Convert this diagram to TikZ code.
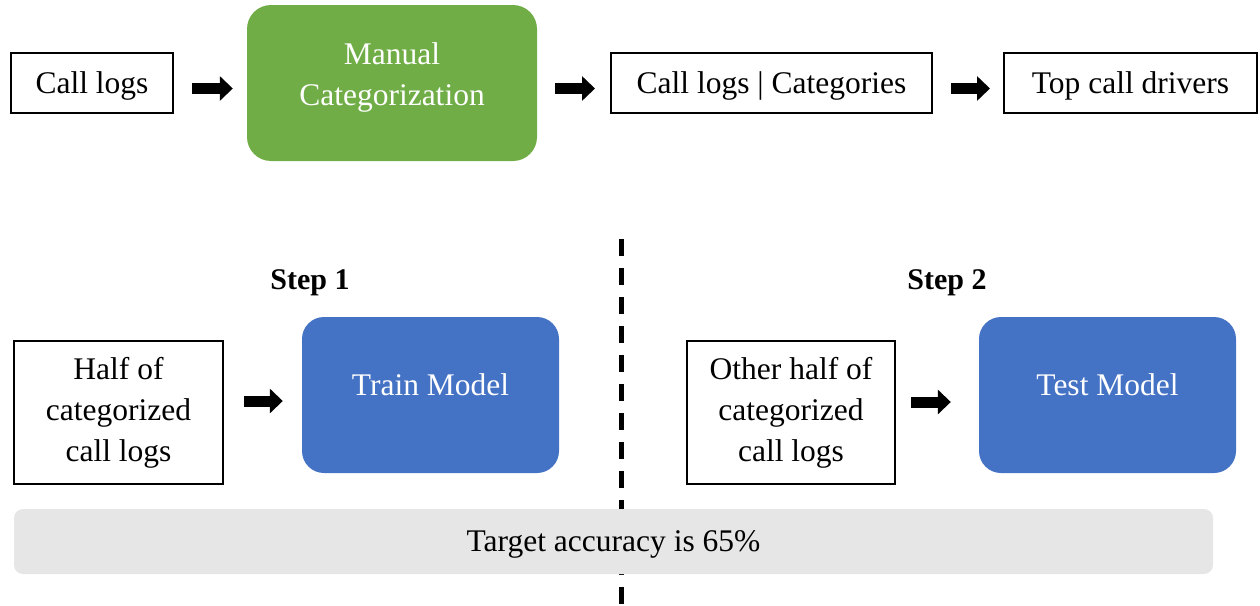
\documentclass[tikz,border=0pt]{standalone}
\usepackage{fontspec}
\setmainfont{Liberation Serif}
\usetikzlibrary{arrows.meta,calc}
\definecolor{mgreen}{HTML}{70AD47}
\definecolor{mblue}{HTML}{4472C4}
\definecolor{mgray}{HTML}{E6E6E6}
\begin{document}
\begin{tikzpicture}[x=1pt,y=-1pt,
  txt/.style={font=\fontsize{31.5}{41}\selectfont},
  plainbox/.style={draw=black,line width=2pt,txt,align=center,inner sep=0pt},
  oneline/.style={text depth=0pt},
  colbox/.style={fill=#1,rounded corners=24pt,inner sep=0pt},
  boxlabel/.style={txt,text=white,align=center},
  blockarrow/.style={line width=11pt,-{Triangle[length=13pt,width=24pt]}},
  divider/.style={line width=4.5pt,dash pattern=on 17pt off 12pt},
]
\useasboundingbox (0,0) rectangle (1260,605);
% divider (behind the gray bar)
\coordinate (dtop) at (621.5,239);
\coordinate (dbot) at (621.5,605);
\draw[divider] (dtop) -- (dbot);

% top row
\node[plainbox,oneline,minimum width=162pt,minimum height=60pt] (cl) at (92,82.5) {Call logs};
\node[colbox=mgreen,minimum width=290pt,minimum height=156pt,
  label={[boxlabel,yshift=6pt]center:Manual\\Categorization}] (mc) at (392,83) {};
\node[plainbox,oneline,minimum width=321pt,minimum height=60pt] (clc) at (771.5,82.5) {Call logs | Categories};
\node[plainbox,oneline,minimum width=253pt,minimum height=60pt] (tcd) at (1130.5,82.5) {Top call drivers};

\draw[blockarrow] ($(cl.east)+(18,6)$) -- ($(mc.west |- cl.east)+(-14,6)$);
\draw[blockarrow] ($(mc.east |- cl.east)+(18,6)$) -- ($(clc.west)+(-15,6)$);
\draw[blockarrow] ($(clc.east)+(18,6)$) -- ($(tcd.west)+(-13,6)$);

% step labels
\node[txt,font=\fontsize{30}{36}\selectfont\bfseries] (s1) at (310,283) {Step 1};
\node[txt,font=\fontsize{30}{36}\selectfont\bfseries] (s2) at (947,283) {Step 2};

% bottom row
\node[plainbox,minimum width=209pt,minimum height=143pt] (half) at (118.5,412.5) {Half of\\categorized\\call logs};
\node[colbox=mblue,minimum width=257pt,minimum height=156pt,rounded corners=22pt,
  label={[boxlabel,yshift=10pt]center:Train Model}] (train) at (430.5,395) {};
\node[plainbox,minimum width=208pt,minimum height=143pt] (other) at (791,412.5) {Other half of\\categorized\\call logs};
\node[colbox=mblue,minimum width=257pt,minimum height=156pt,rounded corners=22pt,
  label={[boxlabel,yshift=10pt]center:Test Model}] (test) at (1107.5,395) {};

\draw[blockarrow] ($(half.east |- train.west)+(20,6)$) -- ($(train.west)+(-19,6)$);
\draw[blockarrow] ($(other.east |- test.west)+(15,7)$) -- ($(test.west)+(-28,7)$);

% gray bar
\node[fill=mgray,rounded corners=9pt,minimum width=1199pt,minimum height=65pt,txt,oneline,inner sep=0pt] (bar) at (613.5,541.5) {Target accuracy is 65\%};
\end{tikzpicture}
\end{document}
